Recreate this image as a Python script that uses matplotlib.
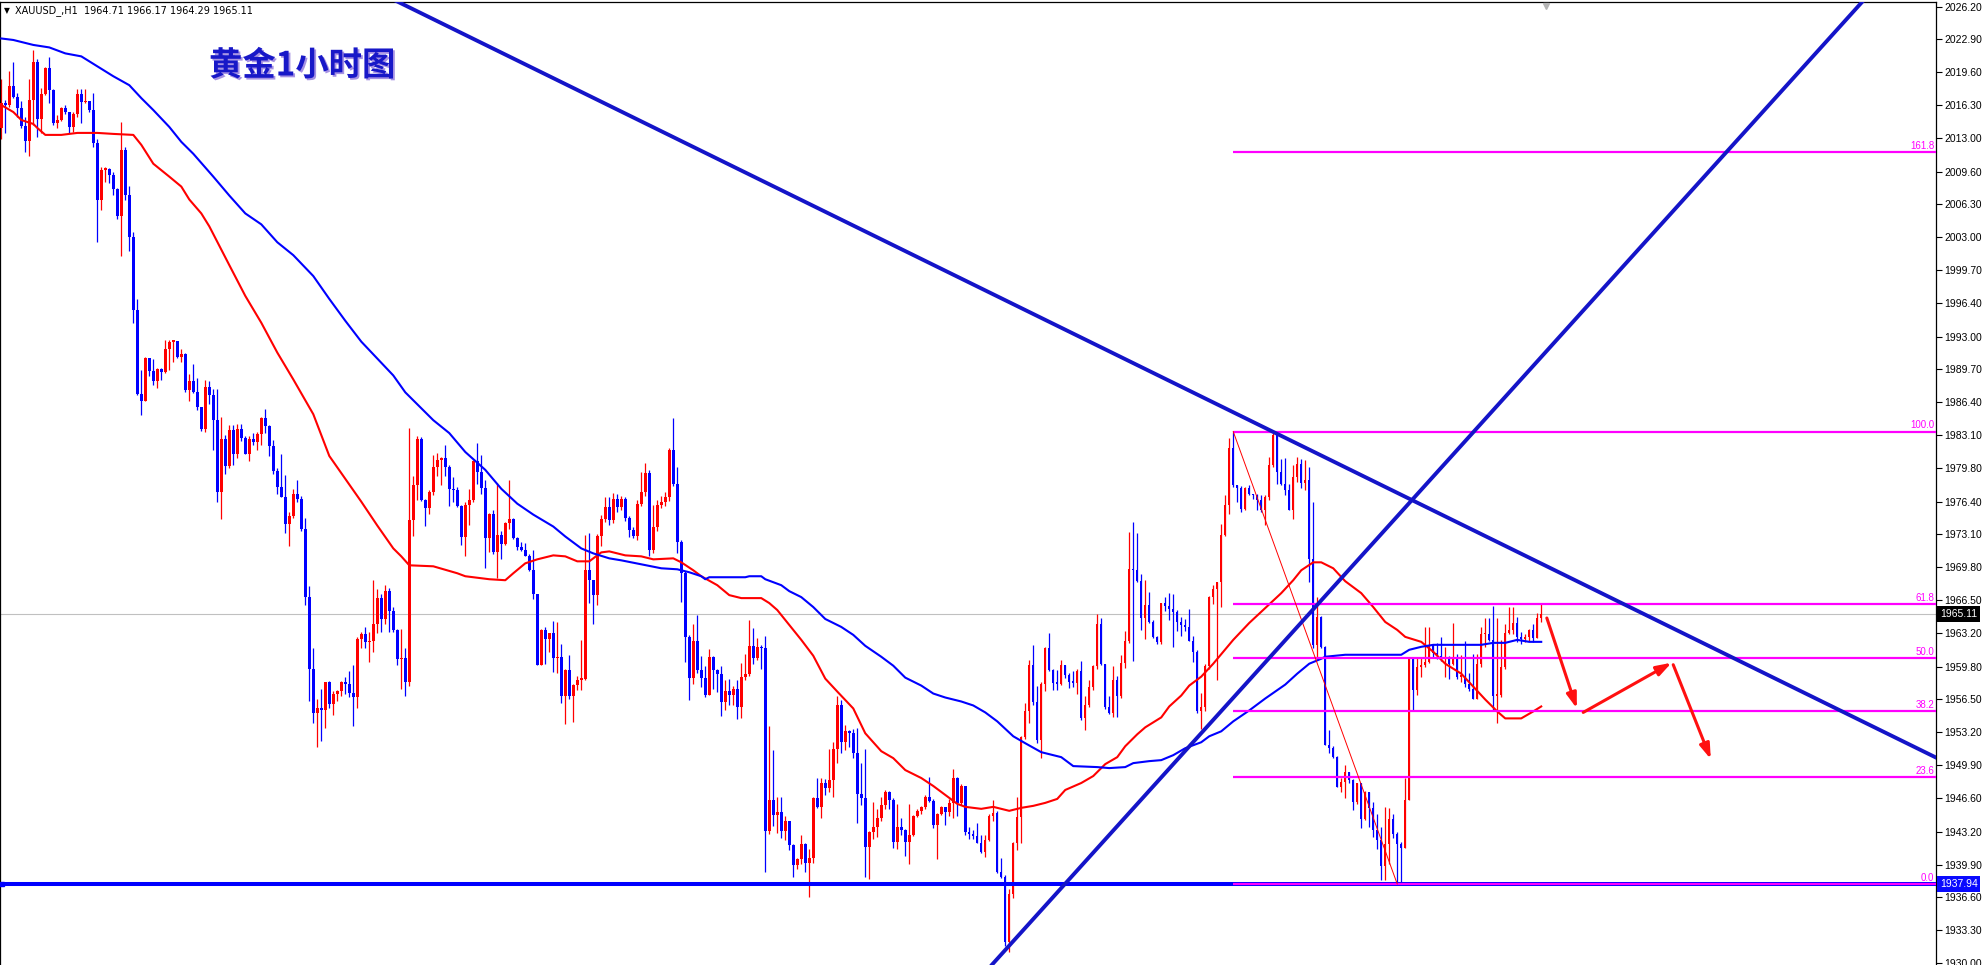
import matplotlib
matplotlib.use("Agg")
import matplotlib.pyplot as plt
import matplotlib.patheffects as pe
from matplotlib.transforms import blended_transform_factory
import numpy as np

plt.rcParams['font.family'] = ['DejaVu Sans']

# XAUUSD H1 candles (open = previous close)
first_open = 2014.0
close_px = [
    2016.5, 2016.3, 2018.2, 2017.1, 2016.0, 2014.2, 2012.7, 2016.8, 2020.6, 2014.9,
    2017.4, 2020.0, 2017.8, 2014.5, 2014.8, 2016.0, 2015.6, 2014.1, 2015.4, 2017.4,
    2016.6, 2016.7, 2015.8, 2012.5, 2006.8, 2009.8, 2009.9, 2009.3, 2007.9, 2005.1,
    2011.8, 2007.3, 2003.0, 1995.7, 1987.2, 1986.5, 1990.9, 1989.5, 1988.5, 1989.7,
    1989.4, 1991.8, 1992.5, 1992.6, 1991.0, 1991.3, 1987.6, 1988.5, 1987.4, 1985.9,
    1983.7, 1987.9, 1987.1, 1984.6, 1977.4, 1982.7, 1980.0, 1983.6, 1981.2, 1983.7,
    1982.8, 1981.2, 1982.7, 1982.4, 1983.2, 1984.8, 1984.0, 1982.0, 1979.5, 1977.9,
    1976.9, 1974.2, 1975.0, 1977.2, 1976.7, 1973.7, 1966.8, 1959.6, 1955.1, 1955.6,
    1955.4, 1958.3, 1956.0, 1957.1, 1957.4, 1958.3, 1958.1, 1957.2, 1956.8, 1962.6,
    1963.1, 1962.3, 1962.4, 1964.1, 1966.7, 1964.6, 1967.4, 1965.4, 1963.5, 1960.6,
    1960.7, 1958.3, 1974.6, 1978.1, 1982.7, 1976.6, 1975.8, 1977.4, 1979.9, 1980.6,
    1980.8, 1979.9, 1977.7, 1977.6, 1976.0, 1972.8, 1976.1, 1976.6, 1980.5, 1979.4,
    1977.8, 1972.7, 1975.2, 1971.3, 1973.0, 1972.1, 1974.3, 1974.7, 1972.7, 1971.8,
    1971.5, 1970.9, 1969.5, 1967.1, 1960.0, 1963.5, 1962.6, 1963.2, 1960.7, 1960.8,
    1956.9, 1959.5, 1956.9, 1958.0, 1958.5, 1958.6, 1969.5, 1968.5, 1967.0, 1972.9,
    1974.7, 1975.9, 1974.6, 1976.7, 1975.9, 1976.7, 1974.8, 1973.6, 1972.9, 1976.2,
    1977.4, 1979.3, 1971.5, 1973.9, 1976.1, 1976.4, 1976.9, 1981.6, 1978.2, 1972.3,
    1969.2, 1962.8, 1958.7, 1962.4, 1959.5, 1958.7, 1957.0, 1960.8, 1959.5, 1959.1,
    1956.2, 1957.4, 1957.0, 1957.6, 1955.7, 1958.8, 1959.1, 1961.9, 1960.7, 1961.8,
    1961.7, 1943.3, 1946.4, 1944.9, 1945.2, 1943.3, 1944.3, 1941.9, 1939.9, 1940.5,
    1942.0, 1940.1, 1940.6, 1946.6, 1945.7, 1948.1, 1947.6, 1948.4, 1951.5, 1955.9,
    1952.2, 1953.3, 1953.1, 1951.1, 1947.0, 1946.6, 1941.7, 1943.2, 1943.7, 1944.6,
    1945.9, 1947.2, 1946.4, 1942.2, 1943.7, 1943.4, 1942.2, 1942.9, 1944.8, 1945.3,
    1945.7, 1946.7, 1946.3, 1943.9, 1945.0, 1945.7, 1945.2, 1946.1, 1948.6, 1946.1,
    1947.8, 1943.2, 1943.0, 1942.8, 1942.1, 1941.2, 1942.4, 1944.8, 1945.1, 1939.1,
    1938.6, 1932.1, 1936.9, 1942.1, 1944.7, 1952.7, 1955.3, 1960.0, 1956.2, 1952.4,
    1958.1, 1961.7, 1959.5, 1958.2, 1958.1, 1960.0, 1959.0, 1958.3, 1958.2, 1959.4,
    1954.6, 1955.9, 1957.8, 1959.9, 1964.1, 1960.1, 1955.7, 1955.1, 1958.5, 1956.9,
    1960.2, 1962.4, 1969.6, 1969.5, 1968.4, 1964.7, 1966.0, 1964.3, 1962.8, 1962.3,
    1966.2, 1965.9, 1965.6, 1965.3, 1964.3, 1964.0, 1963.8, 1962.4, 1961.3, 1955.3,
    1955.7, 1959.9, 1966.8, 1967.6, 1968.3, 1973.0, 1976.1, 1981.8, 1978.1, 1977.8,
    1975.7, 1977.8, 1977.2, 1977.1, 1976.6, 1975.6, 1976.9, 1980.1, 1983.1, 1979.4,
    1978.2, 1977.6, 1975.6, 1978.9, 1980.2, 1978.3, 1978.6, 1970.6, 1962.0, 1964.8,
    1961.8, 1951.9, 1951.6, 1950.7, 1947.7, 1948.2, 1949.2, 1948.4, 1946.2, 1948.1,
    1944.5, 1947.2, 1945.6, 1943.4, 1942.4, 1939.7, 1942.0, 1944.5, 1943.0, 1942.0,
    1941.6, 1946.4, 1960.6, 1957.5, 1959.8, 1960.0, 1960.3, 1962.0, 1961.2, 1960.9,
    1960.6, 1960.6, 1960.1, 1960.8, 1958.8, 1958.8, 1958.1, 1957.6, 1956.6, 1960.1,
    1963.1, 1963.1, 1962.5, 1956.9, 1957.0, 1959.8, 1963.2, 1963.5, 1964.2, 1962.8,
    1962.6, 1962.8, 1963.5, 1962.7, 1964.71, 1965.11,
]
high_px = [
    2018.9, 2016.8, 2019.7, 2020.6, 2017.5, 2016.7, 2015.1, 2018.9, 2021.8, 2020.9,
    2018.0, 2020.1, 2021.1, 2017.9, 2015.3, 2016.1, 2016.3, 2015.6, 2015.6, 2017.9,
    2017.9, 2017.9, 2016.7, 2017.5, 2012.9, 2010.1, 2010.1, 2010.0, 2009.6, 2008.0,
    2014.6, 2012.1, 2008.2, 2003.5, 1996.8, 1989.6, 1991.0, 1990.9, 1990.8, 1989.8,
    1989.8, 1992.7, 1992.7, 1992.7, 1992.6, 1991.8, 1991.4, 1989.2, 1990.3, 1988.8,
    1985.9, 1988.6, 1988.5, 1987.7, 1987.7, 1984.9, 1983.1, 1984.1, 1984.1, 1984.2,
    1984.2, 1983.0, 1983.0, 1983.3, 1983.4, 1984.9, 1985.7, 1984.1, 1982.6, 1979.8,
    1981.2, 1979.1, 1975.4, 1977.7, 1978.6, 1977.0, 1974.8, 1967.9, 1961.7, 1956.5,
    1957.6, 1958.3, 1958.4, 1957.4, 1957.5, 1958.4, 1958.8, 1959.4, 1960.0, 1962.8,
    1963.3, 1963.8, 1963.3, 1968.5, 1967.6, 1967.1, 1968.0, 1967.7, 1965.8, 1963.6,
    1963.6, 1961.7, 1983.8, 1979.0, 1983.0, 1982.9, 1976.7, 1977.6, 1981.1, 1981.3,
    1980.9, 1982.1, 1980.1, 1978.9, 1977.9, 1976.1, 1976.4, 1977.7, 1980.6, 1982.3,
    1981.1, 1978.6, 1975.3, 1975.6, 1978.3, 1973.5, 1974.4, 1978.6, 1974.8, 1972.8,
    1972.3, 1972.2, 1971.1, 1971.5, 1966.5, 1963.6, 1963.8, 1963.2, 1964.4, 1964.3,
    1962.1, 1959.6, 1961.0, 1958.1, 1958.9, 1962.5, 1973.0, 1973.2, 1968.5, 1973.1,
    1975.1, 1976.9, 1976.9, 1977.3, 1977.2, 1977.0, 1976.9, 1975.0, 1973.9, 1976.6,
    1979.4, 1980.3, 1979.6, 1976.1, 1976.6, 1977.0, 1977.4, 1981.8, 1984.8, 1979.9,
    1972.5, 1969.4, 1963.0, 1964.1, 1965.0, 1960.9, 1959.9, 1961.6, 1960.9, 1959.6,
    1959.9, 1958.5, 1958.6, 1957.9, 1958.5, 1960.2, 1961.1, 1964.5, 1963.7, 1962.7,
    1962.0, 1962.9, 1953.8, 1951.4, 1946.7, 1946.7, 1944.8, 1944.3, 1942.0, 1940.6,
    1942.9, 1942.1, 1941.5, 1946.7, 1948.6, 1948.6, 1948.5, 1951.5, 1952.2, 1956.9,
    1956.4, 1953.9, 1953.4, 1953.5, 1953.6, 1950.1, 1951.5, 1943.3, 1946.2, 1945.5,
    1946.7, 1947.4, 1947.3, 1946.6, 1946.0, 1944.6, 1943.5, 1946.0, 1944.9, 1945.5,
    1945.8, 1946.9, 1948.7, 1946.5, 1945.1, 1945.8, 1945.7, 1946.5, 1949.5, 1948.7,
    1948.0, 1947.5, 1943.7, 1943.4, 1944.1, 1942.9, 1942.9, 1945.0, 1946.4, 1945.3,
    1940.6, 1938.8, 1937.4, 1942.2, 1946.7, 1952.8, 1956.1, 1960.5, 1962.0, 1957.9,
    1958.3, 1961.8, 1963.2, 1959.6, 1959.5, 1960.5, 1959.8, 1959.2, 1959.4, 1959.6,
    1960.4, 1956.9, 1958.5, 1960.0, 1965.1, 1964.7, 1960.1, 1956.9, 1959.9, 1958.9,
    1961.0, 1963.4, 1973.4, 1974.4, 1973.2, 1969.1, 1968.5, 1967.3, 1964.5, 1962.9,
    1966.2, 1966.8, 1967.2, 1967.1, 1965.5, 1964.8, 1964.6, 1965.6, 1962.9, 1961.5,
    1957.2, 1960.1, 1966.9, 1968.0, 1968.3, 1974.2, 1977.1, 1982.8, 1983.45, 1978.1,
    1978.0, 1977.9, 1978.1, 1977.2, 1977.2, 1977.1, 1977.1, 1980.9, 1983.3, 1982.6,
    1980.7, 1980.8, 1978.2, 1980.1, 1980.9, 1980.7, 1980.6, 1979.9, 1976.4, 1966.8,
    1964.9, 1961.9, 1953.4, 1951.8, 1950.8, 1948.6, 1949.9, 1949.2, 1948.5, 1948.1,
    1947.2, 1947.3, 1946.9, 1946.2, 1945.0, 1943.7, 1945.7, 1945.6, 1945.0, 1943.2,
    1942.2, 1948.6, 1960.8, 1960.7, 1960.8, 1960.7, 1963.8, 1963.8, 1962.1, 1962.2,
    1962.8, 1961.8, 1960.9, 1964.2, 1961.1, 1961.0, 1962.4, 1959.2, 1961.1, 1961.1,
    1963.8, 1964.7, 1964.7, 1965.9, 1964.7, 1962.5, 1964.1, 1965.8, 1965.8, 1964.8,
    1963.3, 1963.1, 1963.6, 1964.1, 1965.2, 1966.17,
]
low_px = [
    2012.9, 2013.5, 2016.1, 2017.0, 2015.1, 2014.0, 2011.6, 2011.2, 2014.3, 2013.1,
    2013.5, 2017.3, 2016.5, 2014.3, 2014.0, 2014.7, 2015.4, 2013.5, 2013.6, 2015.1,
    2014.5, 2016.5, 2015.6, 2012.1, 2002.5, 2005.7, 2008.6, 2008.5, 2007.3, 2004.8,
    2001.1, 2006.8, 2001.6, 1994.4, 1987.1, 1985.1, 1986.6, 1989.0, 1988.1, 1987.8,
    1988.6, 1989.3, 1989.6, 1990.5, 1990.9, 1990.5, 1987.4, 1986.5, 1987.3, 1985.6,
    1983.5, 1983.4, 1986.2, 1981.6, 1976.4, 1974.7, 1979.2, 1979.8, 1980.1, 1980.8,
    1982.5, 1981.2, 1980.5, 1982.1, 1981.6, 1982.1, 1983.3, 1981.0, 1979.2, 1977.2,
    1976.9, 1973.3, 1971.9, 1974.8, 1976.4, 1973.5, 1966.0, 1956.3, 1954.1, 1951.7,
    1952.3, 1953.6, 1955.6, 1954.9, 1956.3, 1956.9, 1957.1, 1956.8, 1953.8, 1955.6,
    1961.7, 1961.7, 1960.3, 1961.3, 1963.2, 1963.3, 1964.1, 1963.3, 1963.3, 1960.0,
    1957.6, 1956.9, 1957.9, 1972.9, 1976.6, 1976.5, 1974.0, 1975.2, 1977.1, 1979.0,
    1978.1, 1979.0, 1976.0, 1976.4, 1975.9, 1972.0, 1970.9, 1974.1, 1976.4, 1978.2,
    1977.2, 1969.7, 1971.3, 1971.1, 1968.7, 1970.6, 1972.0, 1973.7, 1972.6, 1971.5,
    1971.4, 1970.9, 1969.4, 1966.6, 1960.0, 1960.0, 1960.1, 1961.3, 1959.3, 1959.2,
    1956.1, 1954.0, 1956.6, 1954.2, 1957.5, 1957.5, 1958.5, 1966.2, 1964.1, 1966.0,
    1971.9, 1974.4, 1974.1, 1974.3, 1975.4, 1975.6, 1974.5, 1972.8, 1972.7, 1972.5,
    1976.0, 1977.0, 1970.9, 1971.2, 1973.5, 1975.8, 1976.0, 1976.5, 1978.0, 1971.2,
    1966.3, 1960.3, 1956.4, 1958.1, 1959.2, 1957.8, 1956.8, 1957.2, 1957.6, 1957.3,
    1954.8, 1955.4, 1955.9, 1955.9, 1954.5, 1954.6, 1958.5, 1958.9, 1960.1, 1960.5,
    1959.6, 1939.1, 1943.0, 1943.8, 1943.1, 1942.6, 1942.4, 1941.4, 1938.6, 1939.4,
    1940.0, 1939.1, 1936.6, 1940.1, 1945.6, 1944.6, 1946.9, 1947.2, 1946.7, 1950.1,
    1951.1, 1951.4, 1951.7, 1950.6, 1944.1, 1945.9, 1938.6, 1938.4, 1942.5, 1942.7,
    1944.3, 1945.5, 1945.5, 1941.6, 1941.5, 1942.9, 1940.8, 1940.0, 1942.8, 1944.7,
    1945.0, 1945.5, 1946.2, 1943.6, 1940.5, 1944.9, 1943.9, 1944.8, 1944.6, 1944.8,
    1945.9, 1942.9, 1942.5, 1942.5, 1942.1, 1941.1, 1940.7, 1942.3, 1944.3, 1939.0,
    1938.5, 1931.7, 1931.1, 1936.5, 1941.4, 1942.1, 1952.5, 1954.1, 1955.9, 1952.1,
    1950.6, 1957.4, 1959.4, 1957.5, 1957.5, 1958.0, 1958.7, 1957.7, 1957.8, 1957.1,
    1954.4, 1953.4, 1955.7, 1957.5, 1959.6, 1960.0, 1955.5, 1955.0, 1954.7, 1954.7,
    1956.7, 1959.7, 1962.2, 1960.4, 1968.3, 1963.5, 1962.6, 1964.2, 1962.7, 1962.1,
    1962.1, 1965.4, 1964.5, 1961.8, 1963.4, 1962.9, 1963.4, 1962.4, 1960.3, 1955.1,
    1953.5, 1955.3, 1959.6, 1966.1, 1958.5, 1965.8, 1972.9, 1975.2, 1977.9, 1976.4,
    1975.4, 1975.6, 1977.1, 1976.7, 1975.6, 1975.4, 1974.1, 1976.6, 1979.9, 1978.2,
    1978.1, 1977.1, 1975.6, 1974.7, 1978.4, 1977.8, 1977.6, 1968.3, 1961.65, 1960.6,
    1961.65, 1951.9, 1951.1, 1950.6, 1947.7, 1947.2, 1946.6, 1948.1, 1945.4, 1946.0,
    1943.6, 1944.4, 1943.7, 1942.7, 1941.5, 1938.3, 1938.3, 1940.0, 1942.6, 1937.94,
    1938.0, 1942.4, 1948.6, 1955.4, 1957.0, 1958.8, 1959.8, 1960.2, 1960.8, 1960.6,
    1960.4, 1958.8, 1958.6, 1960.0, 1958.6, 1958.3, 1957.8, 1957.4, 1956.5, 1956.9,
    1959.8, 1961.8, 1962.4, 1955.3, 1954.1, 1956.8, 1959.6, 1963.1, 1963.1, 1962.3,
    1962.1, 1962.3, 1962.4, 1962.3, 1963.0, 1964.29,
]

# moving averages (candle index, price)
ma_red_pts = [
    (0, 2016.3), (3, 2015.6), (5, 2014.8), (8, 2014.4), (9, 2014.0), (11, 2013.3),
    (15, 2013.3), (19, 2013.5), (24, 2013.5), (28, 2013.4), (33, 2013.3), (35, 2012.3),
    (38, 2010.4), (42, 2009.1), (45, 2008.1), (47, 2006.8), (50, 2005.4), (52, 2004.1),
    (57, 2000.2), (61, 1997.1), (65, 1994.4), (69, 1991.4), (73, 1988.7), (78, 1985.2),
    (82, 1981.0), (86, 1978.7), (90, 1976.4), (94, 1974.0), (98, 1971.7), (100, 1970.9),
    (102, 1970.0), (108, 1969.9), (114, 1969.2), (116, 1968.9), (122, 1968.6), (126, 1968.5),
    (128, 1969.2), (131, 1970.2), (134, 1970.6), (138, 1971.0), (141, 1970.9), (144, 1970.4),
    (147, 1970.4), (150, 1971.3), (152, 1971.4), (156, 1971.0), (160, 1970.9), (163, 1970.6),
    (168, 1970.7), (170, 1970.3), (173, 1969.5), (175, 1968.9), (179, 1968.0), (182, 1967.0),
    (185, 1966.7), (190, 1966.7), (192, 1966.2), (194, 1965.5), (197, 1964.0), (200, 1962.5),
    (203, 1960.9), (206, 1958.6), (209, 1957.3), (213, 1955.6), (216, 1953.1), (220, 1951.3),
    (223, 1950.6), (226, 1949.4), (230, 1948.6), (233, 1947.8), (236, 1946.9), (239, 1946.0),
    (241, 1945.7), (245, 1945.5), (248, 1945.7), (252, 1945.3), (255, 1945.6), (258, 1945.8),
    (261, 1946.1), (264, 1946.5), (266, 1947.4), (270, 1948.1), (273, 1948.8), (276, 1950.0),
    (279, 1950.7), (281, 1951.8), (284, 1953.0), (286, 1953.7), (290, 1954.7), (292, 1955.8),
    (295, 1956.9), (297, 1957.9), (300, 1958.8), (303, 1960.1), (308, 1962.5), (312, 1964.2),
    (316, 1965.7), (320, 1967.2), (323, 1968.5), (325, 1969.5), (328, 1970.3), (330, 1970.3),
    (333, 1969.7), (336, 1968.4), (340, 1967.2), (343, 1965.8), (346, 1964.3), (349, 1963.5),
    (351, 1962.8), (355, 1962.3), (358, 1961.3), (361, 1960.1), (365, 1959.1), (368, 1957.8),
    (371, 1956.5), (374, 1955.3), (376, 1954.6), (380, 1954.6), (383, 1955.3), (385, 1955.8),
]
ma_blue_pts = [
    (0, 2023.0), (3, 2022.85), (8, 2022.35), (12, 2022.1), (16, 2021.5), (20, 2021.2),
    (24, 2020.2), (28, 2019.2), (32, 2018.3), (35, 2017.0), (38, 2015.8), (42, 2014.1),
    (45, 2012.6), (48, 2011.4), (53, 2009.1), (57, 2007.2), (61, 2005.4), (65, 2004.3),
    (69, 2002.5), (73, 2001.2), (78, 1999.1), (82, 1996.8), (86, 1994.6), (90, 1992.5),
    (94, 1990.8), (98, 1989.1), (101, 1987.4), (103, 1986.6), (108, 1984.6), (112, 1983.3),
    (116, 1981.4), (121, 1979.6), (125, 1977.7), (129, 1976.2), (133, 1975.1), (138, 1973.9),
    (141, 1972.9), (145, 1971.7), (148, 1971.2), (152, 1970.7), (155, 1970.5), (160, 1970.1),
    (165, 1969.7), (169, 1969.6), (172, 1969.3), (175, 1968.9), (176, 1968.6), (177, 1968.8),
    (186, 1968.8), (187, 1968.9), (190, 1968.9), (191, 1968.6), (195, 1968.0), (197, 1967.4),
    (200, 1966.8), (203, 1965.8), (206, 1964.6), (210, 1963.8), (213, 1963.0), (216, 1961.9),
    (220, 1960.8), (223, 1959.9), (226, 1958.7), (230, 1957.9), (233, 1957.1), (236, 1956.7),
    (240, 1956.3), (243, 1955.9), (246, 1955.2), (249, 1954.3), (253, 1952.8), (256, 1952.1),
    (260, 1951.2), (265, 1950.7), (268, 1949.8), (274, 1949.7), (277, 1949.6), (281, 1949.7),
    (283, 1950.1), (287, 1950.3), (290, 1950.4), (293, 1950.9), (296, 1951.6), (300, 1952.2),
    (302, 1952.8), (305, 1953.3), (308, 1954.3), (312, 1955.4), (316, 1956.6), (321, 1958.0),
    (324, 1959.1), (327, 1960.1), (330, 1960.6), (331, 1960.8), (336, 1961.0), (350, 1961.0),
    (352, 1961.5), (355, 1961.8), (358, 1962.0), (370, 1962.0), (373, 1962.2), (376, 1962.2),
    (379, 1962.5), (382, 1962.3), (385, 1962.3),
]

price_ticks = [2026.20, 2022.90, 2019.60, 2016.30, 2013.00, 2009.60, 2006.30, 2003.00,
               1999.70, 1996.40, 1993.00, 1989.70, 1986.40, 1983.10, 1979.80, 1976.40,
               1973.10, 1969.80, 1966.50, 1963.20, 1959.80, 1956.50, 1953.20, 1949.90,
               1946.60, 1943.20, 1939.90, 1936.60, 1933.30, 1930.00]

fib_levels = [0.0, 23.6, 38.2, 50.0, 61.8, 100.0, 161.8]
fib_low, fib_high = 1937.94, 1983.45
fib_from, fib_to = 308, 349          # candle of swing high / swing low

trend_down = [(90, 2028.5), (484, 1950.6)]
trend_up = [(240, 1926.4), (470, 2028.8)]
support = 1937.94
last_price = 1965.11

arrows = [((386.4, 1964.7), (393.9, 1955.6)),
          ((395.5, 1955.2), (417.6, 1960.2)),
          ((418.0, 1960.0), (427.4, 1950.5))]

W, H = 1984, 965
fig = plt.figure(figsize=(W / 100, H / 100), dpi=100)
fig.patch.set_facecolor('white')
ax = fig.add_axes([0, 0, 1936 / W, 963 / H])
xmin, xmax = -0.33, 483.7
ax.set_xlim(xmin, xmax)
ax.set_ylim(1929.79, 2026.67)

# candles
n = len(close_px)
xs = np.arange(n)
closes = np.array(close_px)
opens = np.r_[first_open, closes[:-1]]
cols = np.where(closes >= opens, '#ff0000', '#0000ff')
lo = np.minimum(np.minimum(low_px, opens), closes)
hi = np.maximum(np.maximum(high_px, opens), closes)
ax.vlines(xs, lo, hi, colors=cols, lw=0.9, zorder=2)
body_lo = np.minimum(opens, closes)
body_h = np.maximum(np.abs(closes - opens), 0.12)
ax.bar(xs, body_h, bottom=body_lo, width=0.62, color=cols, lw=0, zorder=3)

# moving averages
ax.plot(*zip(*ma_red_pts), color='#ff0000', lw=1.5, zorder=4)
ax.plot(*zip(*ma_blue_pts), color='#0000ff', lw=1.5, zorder=4)

# price line and support
ax.axhline(last_price, color='#c0c0c0', lw=0.8, zorder=1)
ax.axhline(support, color='#0000ff', lw=2.9, zorder=5)
ax.plot([xmin + 0.6], [support], marker='s', color='#0000ff', ms=3.5, zorder=5, clip_on=False)

# fibonacci retracement
for lvl in fib_levels:
    y = fib_low + (fib_high - fib_low) * lvl / 100
    ax.hlines(y, fib_from, xmax, color='#ff00ff', lw=1.6, zorder=6)
    ax.text(xmax - 0.4, y + 0.12, f"{lvl:.1f}", ha='right', va='bottom',
            color='#ff00ff', fontsize=7, family='Liberation Sans', zorder=6)
ax.plot([fib_from, fib_to], [fib_high, fib_low], color='#ff0000', lw=0.7, zorder=6)

# trend lines
for line in (trend_down, trend_up):
    ax.plot(*zip(*line), color='#1414c8', lw=2.8, zorder=7, solid_capstyle='butt')

# hand-drawn forecast arrows
for start, end in arrows:
    ax.annotate('', xy=end, xytext=start, zorder=8,
                arrowprops=dict(arrowstyle='-|>,head_length=0.9,head_width=0.3',
                                color='#ff1010', lw=2.2, shrinkA=0, shrinkB=0))

# right price axis
ax.yaxis.tick_right()
ax.set_yticks(price_ticks)
ax.set_yticklabels([f"{v:.2f}" for v in price_ticks], fontsize=7.5, family='Liberation Sans')
ax.tick_params(axis='y', direction='out', length=4, width=0.8, pad=2, colors='black')
ax.set_xticks([])
ax.spines['bottom'].set_visible(False)
for s in ('top', 'left', 'right'):
    ax.spines[s].set_linewidth(0.9)
    ax.spines[s].set_color('black')

tr = blended_transform_factory(ax.transAxes, ax.transData)
ax.text(1.002, last_price, f"{last_price:.2f}", transform=tr, ha='left', va='center',
        fontsize=7.5, family='Liberation Sans', color='white', zorder=10, clip_on=False,
        bbox=dict(boxstyle='square,pad=0.25', fc='black', ec='none'))
ax.text(1.002, support, f"{support:.2f}", transform=tr, ha='left', va='center',
        fontsize=7.5, family='Liberation Sans', color='white', zorder=10, clip_on=False,
        bbox=dict(boxstyle='square,pad=0.25', fc='#0a0aff', ec='none'))

# chart shift marker
ax.plot([386.2], [2026.3], marker='v', color='#b4b4b4', ms=5, clip_on=False, zorder=9)

# header and title
fig.text(4 / W, 1 - 11 / H, "\u25bc", fontsize=5.5, va='center', color='black')
fig.text(15 / W, 1 - 11 / H, "XAUUSD_,H1  1964.71 1966.17 1964.29 1965.11",
         fontsize=7, va='center', color='black')
fig.text(209 / W, 1 - 66 / H, "黄金1小时图", family=['Noto Sans CJK SC', 'DejaVu Sans'],
         weight='bold', fontsize=24, color='#1818c8', va='center',
         path_effects=[pe.withSimplePatchShadow(offset=(1.3, -1.3),
                                                shadow_rgbFace='#9c86e0', alpha=0.9)])

fig.savefig('out.png', dpi=100, facecolor='white')
